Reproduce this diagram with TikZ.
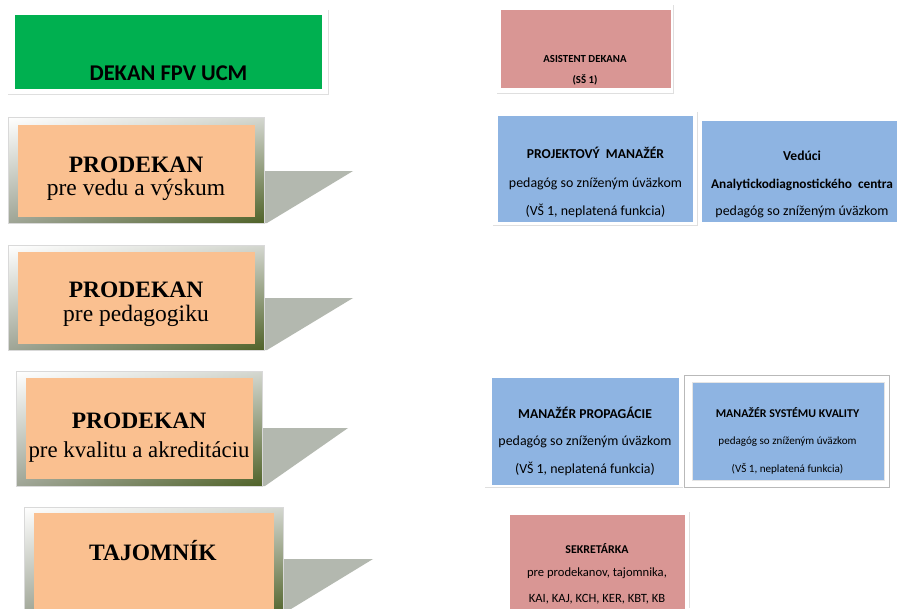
\documentclass[tikz,border=0pt]{standalone}
\usepackage{fontspec}
\usetikzlibrary{shadings}
\setmainfont{Carlito}
\newfontfamily\tnr{Liberation Serif}
\newfontfamily\calib{Carlito}
\definecolor{dgreen}{HTML}{00B050}
\definecolor{dpink}{HTML}{D99694}
\definecolor{dorange}{HTML}{FAC090}
\definecolor{dblue}{HTML}{8EB4E2}
\definecolor{dshadow}{HTML}{B3B8AF}
\definecolor{dolive}{HTML}{4F6228}
\definecolor{dgreyA}{HTML}{D4D7D0}
\definecolor{dgreyB}{HTML}{9FA596}
\tikzset{
  txt/.style={inner sep=0pt, anchor=base, align=center, text=black},
  boxshape/.style={rectangle, inner sep=0pt, draw=none},
  faint/.style={draw=gray!25, line width=0.8pt},
  bevel/.style={upper left=white, upper right=dgreyA, lower left=dgreyB, lower right=dolive},
  big/.style={font=\tnr\fontsize{23.5}{26}\selectfont},
  bigb/.style={font=\tnr\bfseries\fontsize{23.5}{26}\selectfont},
  sm/.style={font=\calib\fontsize{13.9}{16}\selectfont},
  smb/.style={font=\calib\bfseries\fontsize{13.6}{16}\selectfont},
  xs/.style={font=\calib\fontsize{11.1}{13}\selectfont},
  xsb/.style={font=\calib\bfseries\fontsize{11.9}{13}\selectfont},
  sek/.style={font=\calib\fontsize{12.6}{14}\selectfont},
  sekb/.style={font=\calib\bfseries\fontsize{11.9}{14}\selectfont},
}
\begin{document}
\begin{tikzpicture}[x=1pt,y=-1pt]
\useasboundingbox (0,0) rectangle (897,608);
\fill[white] (0,0) rectangle (897,608);

% ---------- DEKAN ----------
\draw[faint] (328,10) -- (328,94) -- (8,94);
\fill[dgreen] (15,15) rectangle (322,89);
\node[boxshape, minimum width=307pt, minimum height=74pt] (dekan) at (168.5,52) {};
\node[txt, font=\calib\bfseries\fontsize{22.5}{26}\selectfont] (dekant) at (168.5,80) {DEKAN FPV UCM};

% ---------- ASISTENT ----------
\draw[faint] (673,5) -- (673,93) -- (497,93);
\fill[dpink] (501,10) rectangle (671,88);
\node[boxshape, minimum width=170pt, minimum height=78pt] (asist) at (586,49) {};
\node[txt, font=\calib\bfseries\fontsize{10.8}{12}\selectfont] (asist1) at (585,62) {ASISTENT DEKANA};
\node[txt, font=\calib\bfseries\fontsize{10.8}{12}\selectfont] (asist2) at (585,83) {(SŠ 1)};

% ---------- PRODEKAN 1 ----------
\fill[dshadow] (262,171) -- (353,171) -- (267,223) -- (262,223) -- cycle;
\shade[bevel] (8,117) rectangle (264,223);
\draw[gray!30, line width=0.5pt] (8,117) rectangle (264,223);
\fill[dorange] (18,125) rectangle (255,217);
\node[boxshape, minimum width=237pt, minimum height=92pt] (p1) at (136.5,171) {};
\node[txt, bigb] (p1a) at (136,172) {PRODEKAN};
\node[txt, big] (p1b) at (136,195) {pre vedu a výskum};

% ---------- PRODEKAN 2 ----------
\fill[dshadow] (262,298) -- (353,298) -- (267,350) -- (262,350) -- cycle;
\shade[bevel] (8,245) rectangle (264,350);
\draw[gray!30, line width=0.5pt] (8,245) rectangle (264,350);
\fill[dorange] (18,252) rectangle (255,344);
\node[boxshape, minimum width=237pt, minimum height=92pt] (p2) at (136.5,298) {};
\node[txt, bigb] (p2a) at (136,297) {PRODEKAN};
\node[txt, big] (p2b) at (136,321) {pre pedagogiku};

% ---------- PRODEKAN 3 ----------
\fill[dshadow] (260,428) -- (348,428) -- (265,486) -- (260,486) -- cycle;
\shade[bevel] (16,371) rectangle (262,486);
\draw[gray!30, line width=0.5pt] (16,371) rectangle (262,486);
\fill[dorange] (26,378) rectangle (253,479);
\node[boxshape, minimum width=227pt, minimum height=101pt] (p3) at (139.5,428.5) {};
\node[txt, bigb] (p3a) at (139,428) {PRODEKAN};
\node[txt, font=\tnr\fontsize{22.8}{26}\selectfont] (p3b) at (139,457) {pre kvalitu a akreditáciu};

% ---------- TAJOMNIK ----------
\fill[dshadow] (281,559) -- (373,559) -- (291,609) -- (281,609) -- cycle;
\shade[bevel] (24,507) rectangle (283,616);
\draw[gray!30, line width=0.5pt] (24,507) rectangle (283,616);
\fill[dorange] (34,513) rectangle (274,616);
\node[boxshape, minimum width=240pt, minimum height=95pt] (taj) at (154,560) {};
\node[txt, bigb] (taja) at (153,560) {TAJOMNÍK};

% ---------- PROJEKTOVY MANAZER ----------
\draw[faint] (493,225) -- (697,225) -- (697,112);
\fill[dblue] (498,116) rectangle (693,222);
\node[boxshape, minimum width=195pt, minimum height=106pt] (proj) at (595.5,169) {};
\node[txt, smb] (proj1) at (595.5,158) {PROJEKTOVÝ\ \ MANAŽÉR};
\node[txt, sm] (proj2) at (595.5,187) {pedagóg so zníženým úväzkom};
\node[txt, sm] (proj3) at (595.5,215) {(VŠ 1, neplatená funkcia)};

% ---------- VEDUCI ----------
\fill[dblue] (702,121) rectangle (900,222);
\node[boxshape, minimum width=198pt, minimum height=101pt] (ved) at (801,171.5) {};
\node[txt, smb] (ved1) at (802,160) {Vedúci};
\node[txt, font=\calib\bfseries\fontsize{13.3}{16}\selectfont] (ved2) at (802,188) {Analytickodiagnostického\ \ centra};
\node[txt, sm] (ved3) at (802,215) {pedagóg so zníženým úväzkom};

% ---------- MANAZER PROPAGACIE ----------
\draw[faint] (485,487) -- (683,487);
\fill[dblue] (492,378) rectangle (679,485);
\node[boxshape, minimum width=187pt, minimum height=107pt] (prop) at (585.5,431.5) {};
\node[txt, smb] (prop1) at (585,418) {MANAŽÉR\ PROPAGÁCIE};
\node[txt, sm] (prop2) at (585,445) {pedagóg so zníženým úväzkom};
\node[txt, sm] (prop3) at (585,473) {(VŠ 1, neplatená funkcia)};

% ---------- MANAZER SYSTEMU KVALITY ----------
\draw[gray!55, fill=white, line width=0.8pt] (684,375) rectangle (889,487);
\fill[dblue] (692,382) rectangle (884,480);
\draw[gray!20, line width=0.5pt] (692,382) rectangle (884,480);
\node[boxshape, minimum width=192pt, minimum height=98pt] (kval) at (788,431) {};
\node[txt, xsb] (kval1) at (787.5,417) {MANAŽÉR SYSTÉMU KVALITY};
\node[txt, xs] (kval2) at (787.5,444) {pedagóg so zníženým úväzkom};
\node[txt, xs] (kval3) at (787.5,472) {(VŠ 1, neplatená funkcia)};

% ---------- SEKRETARKA ----------
\draw[faint] (689,512) -- (689,608);
\fill[dpink] (510,515) rectangle (685,612);
\node[boxshape, minimum width=175pt, minimum height=93pt] (sekr) at (597.5,561.5) {};
\node[txt, sekb] (sekr1) at (597,553) {SEKRETÁRKA};
\node[txt, sek] (sekr2) at (597,576) {pre prodekanov, tajomnika,};
\node[txt, sek] (sekr3) at (597,602) {KAI, KAJ, KCH, KER, KBT, KB};
\end{tikzpicture}
\end{document}
